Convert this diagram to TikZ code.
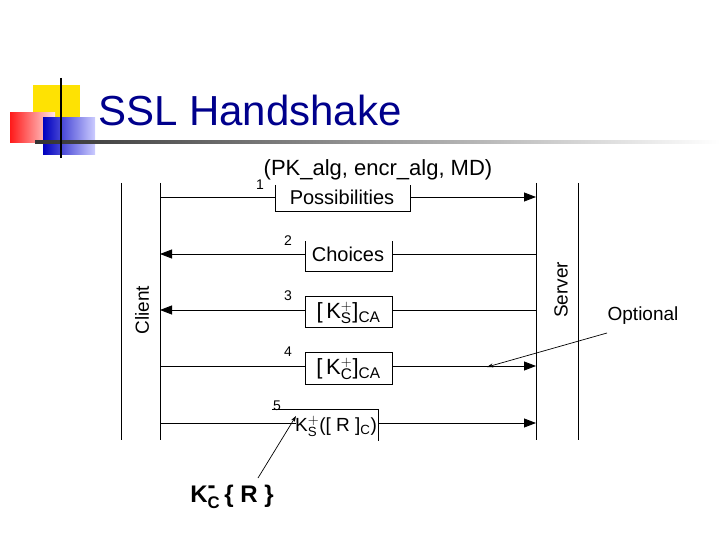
\documentclass[tikz,border=0pt]{standalone}
\usepackage{fontspec}
\setmainfont{Liberation Sans}
\usetikzlibrary{arrows.meta}
\begin{document}
\begin{tikzpicture}[x=1pt,y=-1pt,
  life/.style={line width=0.8pt},
  msg/.style={line width=0.8pt},
  tip/.style={-{Triangle[length=12pt,width=9pt]}},
  lbl/.style={font=\fontsize{20}{24}\selectfont, inner sep=1pt},
  num/.style={font=\fontsize{14}{16}\selectfont, inner sep=0pt},
  note/.style={-{Stealth[length=6pt,width=4pt]}, line width=0.7pt}]
\useasboundingbox (0,0) rectangle (720,540);
% logo
\fill[yellow!85!orange] (33,85) rectangle (80,125);
\shade[left color=red!90, right color=red!10] (10,113) rectangle (55,143);
\shade[left color=blue!75!black, right color=blue!20] (43,118) rectangle (95,155);
\shade[left color=black!80, right color=white] (35,141) rectangle (720,144);
\draw[line width=2pt] (61,78) -- (61,158);
\node[anchor=west, text=blue!55!black, font=\fontsize{42}{46}\selectfont, inner sep=0] (title) at (98,110) {SSL Handshake};
% lifelines
\draw[life] (121,183) -- (121,440);
\draw[life] (160,183) -- (160,440);
\draw[life] (536,183) -- (536,440);
\draw[life] (578,183) -- (578,440);
\node[rotate=90, font=\fontsize{19}{22}\selectfont] (client) at (142,310) {Client};
\node[rotate=90, font=\fontsize{19}{22}\selectfont] (server) at (561,290) {Server};
\coordinate (c1) at (160,197); \coordinate (s1) at (536,197);
\coordinate (c2) at (160,254); \coordinate (s2) at (536,254);
\coordinate (c3) at (160,310); \coordinate (s3) at (536,310);
\coordinate (c4) at (160,366); \coordinate (s4) at (536,366);
\coordinate (c5) at (160,423); \coordinate (s5) at (536,423);
% message 1
\node[lbl, font=\fontsize{22}{26}\selectfont] (pk) at (378,170) {(PK\_alg, encr\_alg, MD)};
\node[lbl] (poss) at (342,197) {Possibilities};
\draw[msg] (275,185) |- (410,211) -- (410,185);
\draw[msg] (c1) -- (275,197);
\draw[msg,tip] (410,197) -- (s1);
\node[num] (n1) at (260,185) {1};
% message 2
\node[lbl] (cho) at (348,254) {Choices};
\draw[msg] (305,241) |- (392,271) -- (392,241);
\draw[msg,tip] (305,254) -- (c2);
\draw[msg] (s2) -- (392,254);
\node[num] (n2) at (288,241) {2};
% message 3
\draw[msg] (305,296) rectangle (392,327);
\node[lbl, font=\fontsize{22}{26}\selectfont] (k3) at (348.5,313) {[\,K$^{\mathbf{+}}_{\mathrm{S}}$]$_{\mathrm{CA}}$};
\draw[msg,tip] (305,310) -- (c3);
\draw[msg] (s3) -- (392,310);
\node[num] (n3) at (288,296) {3};
% message 4
\draw[msg] (305,352) rectangle (392,384);
\node[lbl, font=\fontsize{22}{26}\selectfont] (k4) at (348.5,369) {[\,K$^{\mathbf{+}}_{\mathrm{C}}$]$_{\mathrm{CA}}$};
\draw[msg] (c4) -- (305,366);
\draw[msg,tip] (392,366) -- (s4);
\node[num] (n4) at (288,352) {4};
% message 5
\node[lbl, font=\fontsize{19}{22}\selectfont] (k5) at (336,426) {K$^{\mathbf{+}}_{\mathrm{S}}$([ R ]$_{\mathrm{C}}$)};
\draw[msg] (272,409) -- (378,409) -- (378,441);
\draw[msg] (c5) -- (296,423);
\draw[msg,tip] (378,423) -- (s5);
\node[num] (n5) at (277,406) {5};
% annotations
\node[font=\fontsize{19}{22}\selectfont] (opt) at (643,316) {Optional};
\coordinate (optarr) at (487,367);
\draw[note] (607,333) -- (optarr);
\node[font=\bfseries\fontsize{24}{28}\selectfont] (kc) at (232,497) {K$^{\textbf{-}}_{\mathbf{C}}$\,\{ R \}};
\coordinate (kcarr) at (296,416);
\draw[note] (258,478) -- (kcarr);
\end{tikzpicture}
\end{document}
